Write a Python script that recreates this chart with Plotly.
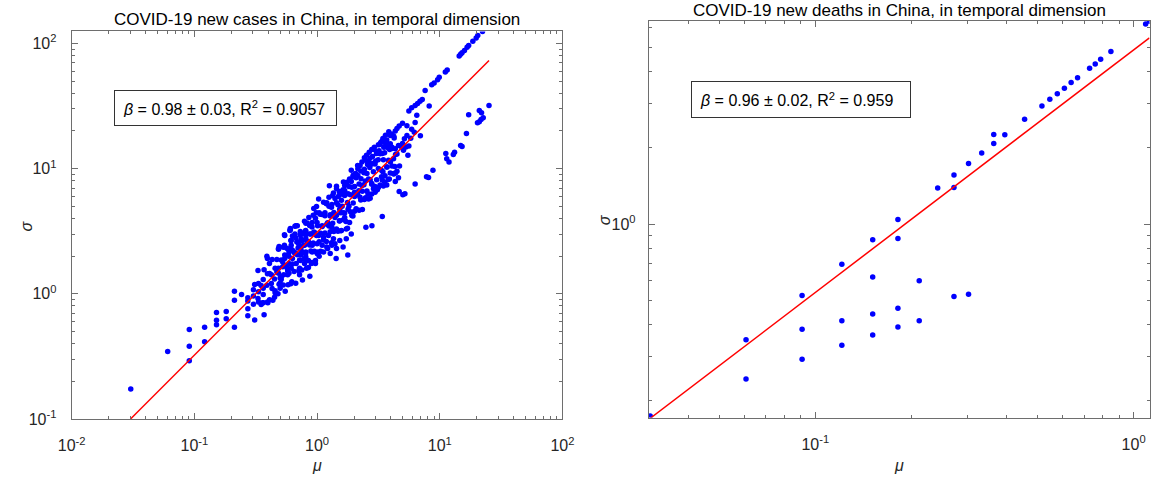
import plotly.graph_objects as go
import numpy as np

# ---------------- Left panel: COVID-19 new cases (mu, sigma) ----------------
mu_tail = [0.0303, 0.0606, 0.0909, 0.0909, 0.0909, 0.1212, 0.1212, 0.1515, 0.1515, 0.1515,
           0.1818, 0.1818, 0.2121, 0.2121, 0.2121, 0.2424, 0.2727, 0.2727, 0.2727, 0.2727]
sigma_tail = [0.174, 0.347, 0.520, 0.382, 0.292, 0.542, 0.414, 0.711, 0.616, 0.566,
              0.724, 0.633, 1.05, 0.888, 0.542, 0.989, 0.932, 0.877, 0.759, 0.668]

mu_low = [0.303, 0.303, 0.303, 0.333, 0.333, 0.333, 0.364, 0.364, 0.364, 0.364,
          0.394, 0.394, 0.394, 0.409, 0.424, 0.424, 0.455, 0.455, 0.455,
          0.485, 0.485, 0.485, 0.500, 0.500, 0.500, 0.525, 0.525,
          0.545, 0.545, 0.545, 0.545, 0.576, 0.576, 0.590, 0.590, 0.606,
          0.615, 0.615, 0.615, 0.630, 0.630, 0.660, 0.660, 0.676, 0.676,
          0.700, 0.700, 0.720, 0.720, 0.740, 0.740, 0.757, 0.757, 0.790, 0.790,
          0.810, 0.810, 0.810, 0.810,
          0.622, 0.720, 0.535, 0.580, 0.510, 0.760, 0.600, 0.361, 0.397, 0.436, 0.480,
          0.850, 0.873, 0.820, 0.900, 0.970, 1.040]
sigma_low = [1.08, 0.96, 0.826, 1.21, 1.04, 0.86, 1.30, 1.11, 0.99, 0.85,
             1.92, 1.45, 0.86, 1.75, 1.21, 1.42, 1.60, 1.06, 1.02,
             2.30, 1.60, 1.46, 1.11, 1.22, 1.34, 1.80, 1.65,
             2.92, 2.37, 2.04, 1.92, 1.42, 1.52, 2.16, 1.75, 3.25,
             2.44, 2.67, 1.60, 2.23, 1.92, 3.00, 3.46, 1.75, 2.10,
             2.59, 2.32, 1.86, 1.60, 2.04, 2.75, 2.16, 3.00, 1.75, 2.44,
             3.67, 3.14, 1.98, 2.75,
             1.25, 1.42, 1.42, 1.18, 1.30, 1.29, 3.20, 0.851, 0.85, 0.888, 1.00,
             1.85, 1.38, 1.60, 1.75, 1.85, 2.00]

mu_mid = [0.485, 0.542, 0.542, 0.594, 0.605, 0.612, 0.651, 0.671, 0.684, 0.727, 0.736, 0.759, 0.807, 0.807, 0.832,
          0.857, 0.873, 0.912, 0.912, 0.912, 0.940, 0.940, 0.986, 1.00, 1.00, 1.00, 1.03, 1.03, 1.06, 1.10,
          1.10, 1.13, 1.13, 1.16, 1.20, 1.20, 1.20, 1.24, 1.26, 1.28, 1.28, 1.32, 1.32, 1.32, 1.36,
          1.40, 1.44, 1.44, 1.44, 1.49, 1.53, 1.53, 1.53, 1.58, 1.63, 1.63, 1.68, 1.73, 1.73, 1.79,
          1.84, 1.90, 1.96, 2.02]
sigma_mid = [2.27, 2.96, 2.44, 2.23, 3.33, 2.67, 2.16, 3.50, 2.59, 2.96, 2.30, 2.67, 3.20, 2.10, 2.59,
             4.07, 3.01, 3.72, 2.44, 2.16, 4.81, 3.10, 4.45, 3.72, 2.51, 2.10, 5.73, 2.92, 4.32, 3.50,
             2.44, 2.83, 2.16, 4.45, 5.33, 3.60, 2.37, 2.92, 7.29, 4.19, 2.10, 5.18, 3.40, 2.44, 2.75,
             4.07, 5.33, 3.30, 2.30, 6.00, 4.73, 3.83, 2.67, 3.20, 4.45, 2.37, 4.07, 3.30, 2.75, 4.73,
             3.72, 3.01, 4.19, 6.00]

mu_up = [4.97, 4.67, 4.48, 4.34, 4.08, 3.84, 3.61, 3.44, 3.30, 3.16, 2.93, 2.79, 2.66, 2.53, 2.43,
         2.32, 2.24, 2.15, 2.06, 1.96, 1.90, 1.84, 1.75, 1.68, 1.63, 1.53, 1.44, 1.36, 1.25,
         3.84, 3.61, 3.40, 3.20, 3.00, 2.83, 2.69, 2.58, 2.43, 2.28, 2.15, 2.02, 1.90, 1.79, 1.68, 1.58,
         4.08, 4.34, 4.61, 4.90, 5.06, 4.48, 4.20, 3.96, 3.72, 3.44, 3.35, 3.56, 3.88, 4.20, 4.48, 4.61, 4.34, 4.67,
         3.10, 2.97, 2.79, 2.63, 2.47, 2.32, 2.19, 2.79, 2.43, 2.24]
sigma_up = [23.0, 21.9, 20.9, 20.0, 18.9, 19.7, 18.5, 17.4, 16.2, 15.5, 14.8, 14.2, 13.5, 12.8, 12.2,
            11.3, 10.6, 10.0, 9.16, 8.63, 9.73, 8.27, 7.79, 7.33, 6.78, 6.58, 6.91, 6.39, 5.90,
            15.1, 16.0, 13.2, 13.9, 11.5, 12.5, 10.2, 10.8, 9.90, 8.30, 8.80, 7.20, 7.90, 6.30, 6.70, 5.60,
            14.8, 14.4, 15.3, 14.8, 14.0, 13.1, 12.0, 11.3, 10.3, 9.44, 8.63, 7.79, 8.27, 9.16, 9.55, 8.47, 7.88, 6.58,
            6.78, 7.20, 7.52, 8.27, 7.98, 7.33, 6.65, 6.27, 5.66, 5.90]

mu_core = [0.31, 0.31, 0.33, 0.33, 0.35, 0.35, 0.37, 0.37, 0.39, 0.39, 0.41, 0.41, 0.43, 0.43, 0.45, 0.45,
           0.47, 0.47, 0.49, 0.49, 0.51, 0.51, 0.53, 0.53, 0.55, 0.55, 0.57, 0.57, 0.59, 0.59, 0.61, 0.61,
           0.63, 0.63, 0.65, 0.65, 0.67, 0.67, 0.69, 0.69, 0.71, 0.71, 0.73, 0.73, 0.75, 0.75, 0.77, 0.77,
           0.79, 0.79, 0.81, 0.81, 0.83, 0.83, 0.85, 0.85, 0.87, 0.87, 0.89, 0.89, 0.91, 0.91, 0.93, 0.93,
           0.95, 0.95, 0.97, 0.97, 0.99, 0.99, 1.01, 1.01, 1.04, 1.04, 1.07, 1.07, 1.10, 1.10, 1.13, 1.13,
           1.16, 1.16, 1.19, 1.19, 1.22, 1.22, 1.25, 1.25, 1.28, 1.28, 1.31, 1.31, 1.34, 1.34, 1.37, 1.37,
           1.40, 1.40, 1.44, 1.44, 1.48, 1.48, 1.52, 1.52, 1.56, 1.56, 1.60, 1.60, 1.64, 1.64, 1.68, 1.68,
           1.72, 1.72, 1.77, 1.77, 1.82, 1.82, 1.87, 1.87, 1.92, 1.92, 1.97, 1.97, 2.02, 2.02, 2.08, 2.08,
           2.14, 2.14, 2.20, 2.20, 2.27, 2.27, 2.34, 2.34, 2.41, 2.41, 2.48, 2.48, 2.55, 2.55, 2.63, 2.63,
           2.71, 2.71, 2.79, 2.79, 2.88, 2.88, 2.97, 2.97, 3.06, 3.06, 3.16, 3.16, 3.26, 3.26, 3.36, 3.36,
           3.47, 3.47, 3.58, 3.58, 3.70, 3.70, 3.82, 3.82, 3.95, 3.95, 4.08, 4.08, 4.22, 4.22, 4.36, 4.36]
sigma_core = [0.619, 1.19, 0.920, 1.54, 0.821, 1.166, 0.680, 1.56, 1.174, 2.00, 0.897, 1.456, 1.104, 1.881, 1.312, 0.941,
              1.877, 1.505, 1.196, 2.392, 1.357, 1.867, 1.178, 2.356, 1.686, 1.049, 2.301, 1.606, 1.995, 1.459, 1.203, 2.310,
              1.735, 2.899, 1.506, 2.137, 1.216, 2.789, 2.052, 3.499, 1.533, 2.489, 1.851, 3.153, 2.160, 1.550, 3.037, 2.434,
              1.904, 3.808, 2.155, 2.966, 1.845, 3.689, 2.608, 1.623, 3.513, 2.451, 3.009, 2.201, 1.783, 3.424, 2.545, 4.251,
              2.187, 3.103, 1.750, 4.013, 2.925, 4.988, 2.160, 3.507, 2.611, 4.449, 3.052, 2.189, 4.297, 3.444, 2.697, 5.395,
              3.057, 4.207, 2.619, 5.238, 3.706, 2.307, 4.999, 3.488, 4.285, 3.135, 2.558, 4.914, 3.656, 6.106, 3.143, 4.459,
              2.517, 5.772, 4.241, 7.232, 3.166, 5.139, 3.817, 6.503, 4.449, 3.192, 6.250, 5.010, 3.915, 7.829, 4.427, 6.093,
              3.786, 7.571, 5.377, 3.347, 7.185, 5.013, 6.180, 4.520, 4.230, 7.109, 5.305, 8.861, 4.574, 6.490, 4.774, 8.465,
              6.221, 10.61, 4.645, 7.540, 5.626, 9.585, 6.587, 4.726, 9.293, 7.449, 5.844, 11.69, 6.633, 9.130, 5.714, 11.43,
              8.127, 5.805, 10.91, 7.609, 9.424, 6.894, 6.479, 10.89, 8.159, 13.63, 7.085, 10.05, 7.409, 13.14, 9.671, 16.49,
              7.252, 11.77, 8.789, 14.97, 10.31, 7.399, 14.58, 11.69, 9.217, 18.43, 10.51, 14.46, 9.081, 18.16, 12.95, 9.247]

mu_fill = [2.70, 2.90, 3.05, 3.25, 3.50, 3.70, 3.95, 4.25, 2.85, 3.15, 3.55, 3.90,
           2.60, 3.00, 3.40, 3.80, 4.30, 4.70,
           6.95, 5.80, 5.60, 6.20, 5.90, 5.30, 5.50]
sigma_fill = [12.1, 14.2, 13.2, 15.6, 14.8, 16.9, 15.8, 17.6, 11.0, 11.8, 13.4, 14.2,
              6.30, 6.70, 8.10, 8.20, 10.4, 10.5,
              18.3, 17.5, 15.2, 19.5, 20.6, 14.9, 12.8]

mu_branch = [22.3, 20.4, 19.8, 18.6, 17.2, 16.7, 15.9, 15.2, 14.8, 14.4,
             11.5, 11.1, 9.9, 9.6, 9.0, 8.6, 7.6, 7.2, 6.9, 6.6,
             6.3, 5.9, 5.6, 8.2, 6.5, 6.3, 5.4, 5.4, 5.15, 4.97]
sigma_branch = [124.5, 115.9, 110.4, 104.0, 96.2, 93.3, 87.9, 84.3, 81.8, 79.4,
                61.3, 59.1, 53.7, 51.2, 48.2, 46.8, 42.0, 35.7, 34.6, 33.2,
                32.0, 30.7, 28.9, 31.6, 26.7, 23.4, 22.0, 18.4, 17.3, 15.9]

mu_lowbranch = [25.2, 21.0, 21.9, 22.6, 21.7, 21.0, 20.3, 17.2, 16.5, 14.8,
                15.2, 12.9, 13.2, 11.2, 11.4, 11.9, 8.8, 7.8, 8.1, 6.3,
                5.0, 5.2, 3.4, 2.8, 2.5, 1.43, 1.78]
sigma_lowbranch = [32.0, 29.1, 27.9, 25.5, 24.7, 23.7, 23.3, 27.0, 19.1, 15.3,
                   15.0, 13.0, 13.5, 13.2, 12.0, 11.3, 9.7, 8.6, 8.5, 7.55,
                   6.2, 6.3, 4.14, 3.5, 3.4, 1.92, 2.04]

# ---------------- Right panel: COVID-19 new deaths ----------------
mu_deaths = [0.0303, 0.0606, 0.0606, 0.0909, 0.0909, 0.0909, 0.1212, 0.1212, 0.1212,
             0.1515, 0.1515, 0.1515, 0.1515, 0.1818, 0.1818, 0.1818, 0.1818, 0.2121, 0.2121,
             0.2424, 0.2727, 0.2727, 0.2727, 0.3030, 0.3030, 0.3333, 0.3636, 0.3636, 0.3939,
             0.4545, 0.5152, 0.5455, 0.5758, 0.6061, 0.6364, 0.6667, 0.7273, 0.7576, 0.7879,
             0.8485, 1.0909, 1.1212]
sigma_deaths = [0.1741, 0.2434, 0.348, 0.521, 0.3835, 0.292, 0.6925, 0.414, 0.331,
                0.866, 0.6166, 0.441, 0.364, 1.041, 0.8766, 0.4638, 0.3915, 0.5963, 0.4141,
                1.387, 1.563, 1.394, 0.5166, 1.735, 0.5276, 1.908, 2.262, 2.081, 2.256,
                2.597, 2.933, 3.114, 3.279, 3.446, 3.627, 3.793, 4.137, 4.30, 4.485,
                4.818, 6.19, 6.35]

# fitted power laws sigma = 10**logc * mu**beta
beta_cases, logc_cases = 0.98, 0.491
beta_deaths, logc_deaths = 0.96, 0.689

pairs = [(mu_tail, sigma_tail), (mu_low, sigma_low), (mu_mid, sigma_mid), (mu_up, sigma_up),
         (mu_core, sigma_core), (mu_fill, sigma_fill), (mu_branch, sigma_branch),
         (mu_lowbranch, sigma_lowbranch), (mu_deaths, sigma_deaths)]
for a, b in pairs:
    if len(a) != len(b):
        raise ValueError(f"length mismatch {len(a)} vs {len(b)}")

mu_cases = mu_tail + mu_low + mu_mid + mu_up + mu_core + mu_fill + mu_branch + mu_lowbranch
sigma_cases = sigma_tail + sigma_low + sigma_mid + sigma_up + sigma_core + sigma_fill + sigma_branch + sigma_lowbranch

W, H = 1163, 485
FONT = "Liberation Sans, Arial, Helvetica, sans-serif"
AX = "#262626"
FRAME = "#6e6e6e"

fig = go.Figure()
fig.add_trace(go.Scatter(x=mu_cases, y=sigma_cases, mode="markers", xaxis="x", yaxis="y",
                         marker=dict(color="#0000ff", size=5.5, line=dict(width=0)), showlegend=False))
xl = np.array([min(mu_cases), max(mu_cases)])
fig.add_trace(go.Scatter(x=xl, y=10 ** logc_cases * xl ** beta_cases, mode="lines", xaxis="x", yaxis="y",
                         line=dict(color="#ff0000", width=1.5), showlegend=False))
fig.add_trace(go.Scatter(x=mu_deaths, y=sigma_deaths, mode="markers", xaxis="x2", yaxis="y2",
                         marker=dict(color="#0000ff", size=5.5, line=dict(width=0)), showlegend=False))
xr = np.array([min(mu_deaths), max(mu_deaths)])
fig.add_trace(go.Scatter(x=xr, y=10 ** logc_deaths * xr ** beta_deaths, mode="lines", xaxis="x2", yaxis="y2",
                         line=dict(color="#ff0000", width=1.5), showlegend=False))


def minor_vals(lo, hi):
    v = []
    for e in range(lo, hi):
        for m in range(2, 10):
            v.append(m * 10.0 ** e)
    return v


def sup(e):
    return f"10<sup>{e}</sup>"


def axis(domain, rng, tickvals, anchor, minors, standoff):
    return dict(type="log", domain=domain, range=rng, anchor=anchor,
                tickmode="array", tickvals=tickvals,
                ticktext=[sup(int(round(np.log10(t)))) for t in tickvals],
                ticks="inside", ticklen=6, tickwidth=1, tickcolor=FRAME,
                showline=True, linecolor=FRAME, linewidth=1, mirror="ticks",
                showgrid=False, zeroline=False, ticklabelstandoff=standoff,
                tickfont=dict(family=FONT, size=16, color=AX),
                minor=dict(tickmode="array", tickvals=minors, ticks="inside", ticklen=3,
                           tickcolor=FRAME, tickwidth=1, showgrid=False))


L = dict(x0=59, x1=561, y0=32, y1=427)
R = dict(x0=649.3, x1=1161.5, y0=21.5, y1=425.5)


def dom_x(d):
    return [d["x0"] / W, d["x1"] / W]


def dom_y(d):
    return [(H - d["y1"]) / H, (H - d["y0"]) / H]


fig.update_layout(
    width=W, height=H, margin=dict(l=0, r=0, t=0, b=0),
    paper_bgcolor="white", plot_bgcolor="white",
    xaxis=axis(dom_x(L), [-2, 2], [0.01, 0.1, 1, 10, 100], "y", minor_vals(-2, 2), 12),
    yaxis=axis(dom_y(L), [-1, 2.096], [0.1, 1, 10, 100], "x", minor_vals(-1, 3), 11),
    xaxis2=axis(dom_x(R), [-1.523, 0.050], [0.1, 1], "y2", minor_vals(-2, 1), 12),
    yaxis2=axis(dom_y(R), [-0.766, 0.803], [1], "x2", minor_vals(-1, 1), 9),
)

ann = []
# titles
ann.append(dict(x=(L["x0"] + L["x1"]) / 2 / W, y=(H - 20) / H, xref="paper", yref="paper",
                text="COVID-19 new cases in China, in temporal dimension", showarrow=False,
                font=dict(family=FONT, size=17, color="black"), xanchor="center", yanchor="middle"))
ann.append(dict(x=(R["x0"] + R["x1"]) / 2 / W, y=(H - 11) / H, xref="paper", yref="paper",
                text="COVID-19 new deaths in China, in temporal dimension", showarrow=False,
                font=dict(family=FONT, size=17, color="black"), xanchor="center", yanchor="middle"))
# axis labels
for cx in [(L["x0"] + L["x1"]) / 2, (R["x0"] + R["x1"]) / 2]:
    ann.append(dict(x=cx / W, y=(H - 474) / H, xref="paper", yref="paper", text="<i>μ</i>",
                    showarrow=False, font=dict(family=FONT, size=16, color=AX),
                    xanchor="center", yanchor="middle"))
for cx, cy in [(13, 230), (604, 224)]:
    ann.append(dict(x=cx / W, y=(H - cy) / H, xref="paper", yref="paper", text="<i>σ</i>",
                    showarrow=False, textangle=-90, font=dict(family=FONT, size=16, color=AX),
                    xanchor="center", yanchor="middle"))
# fit boxes
ann.append(dict(x=216.3 / W, y=(H - 110.2) / H, xref="paper", yref="paper",
                text="<i>β</i> = 0.98 ± 0.03, R<sup>2</sup> = 0.9057", showarrow=False,
                font=dict(family=FONT, size=16, color="black"), align="left",
                width=205, height=18, borderpad=8, bordercolor="#333333", borderwidth=1,
                bgcolor="white", xanchor="center", yanchor="middle"))
ann.append(dict(x=805.5 / W, y=(H - 101.2) / H, xref="paper", yref="paper",
                text="<i>β</i> = 0.96 ± 0.02, R<sup>2</sup> = 0.959", showarrow=False,
                font=dict(family=FONT, size=16, color="black"), align="left",
                width=202, height=19, borderpad=8, bordercolor="#333333", borderwidth=1,
                bgcolor="white", xanchor="center", yanchor="middle"))
fig.update_layout(annotations=ann)

# remove the default page margin so the 1163x485 figure fills the window exactly
fig.write_html("out.html", config={"displayModeBar": False},
               post_script="document.body.style.margin='0';")
